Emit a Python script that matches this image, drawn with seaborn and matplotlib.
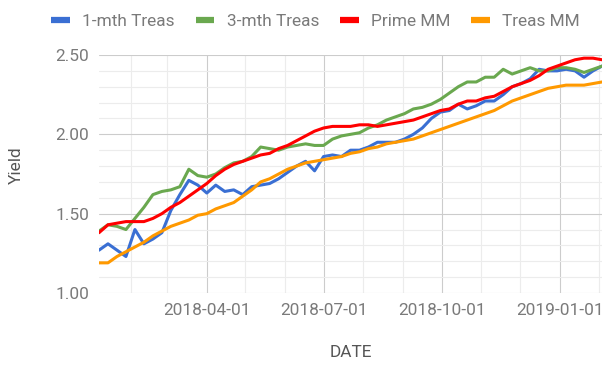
import matplotlib
matplotlib.use("Agg")
import matplotlib.pyplot as plt
import matplotlib.dates as mdates
import numpy as np
import pandas as pd
import seaborn as sns

# weekly yields
dates = pd.date_range("2018-01-07", periods=57, freq="7D")

one_mth = [1.27, 1.31, 1.27, 1.23, 1.40, 1.31, 1.34, 1.38, 1.52, 1.62,
           1.71, 1.68, 1.63, 1.68, 1.64, 1.65, 1.62, 1.67, 1.68, 1.69,
           1.72, 1.76, 1.80, 1.83, 1.77, 1.86, 1.87, 1.86, 1.90, 1.90,
           1.92, 1.95, 1.95, 1.95, 1.97, 2.00, 2.04, 2.10, 2.14,
           2.15, 2.19, 2.16, 2.18, 2.21, 2.21, 2.25, 2.30, 2.32, 2.35,
           2.41, 2.40, 2.40, 2.41, 2.40, 2.36, 2.40, 2.43]
three_mth = [1.39, 1.43, 1.42, 1.40, 1.47, 1.54, 1.62, 1.64, 1.65, 1.67,
             1.78, 1.74, 1.73, 1.75, 1.79, 1.82, 1.83, 1.86, 1.92, 1.91,
             1.90, 1.92, 1.93, 1.94, 1.93, 1.93, 1.97, 1.99, 2.00, 2.01,
             2.04, 2.06, 2.09, 2.11, 2.13, 2.16, 2.17, 2.19, 2.22,
             2.26, 2.30, 2.33, 2.33, 2.36, 2.36, 2.41, 2.38, 2.40, 2.42,
             2.40, 2.40, 2.42, 2.42, 2.41, 2.39, 2.41, 2.43]
prime_mm = [1.38, 1.43, 1.44, 1.45, 1.45, 1.45, 1.47, 1.50, 1.54, 1.57,
            1.61, 1.65, 1.69, 1.74, 1.78, 1.81, 1.83, 1.85, 1.87, 1.88,
            1.91, 1.93, 1.96, 1.99, 2.02, 2.04, 2.05, 2.05, 2.05, 2.06,
            2.06, 2.05, 2.06, 2.07, 2.08, 2.09, 2.11, 2.13, 2.15,
            2.16, 2.19, 2.21, 2.21, 2.23, 2.24, 2.27, 2.30, 2.32, 2.34,
            2.37, 2.41, 2.43, 2.45, 2.47, 2.48, 2.48, 2.47]
treas_mm = [1.19, 1.19, 1.23, 1.26, 1.29, 1.32, 1.36, 1.39, 1.42, 1.44,
            1.46, 1.49, 1.50, 1.53, 1.55, 1.57, 1.61, 1.65, 1.70, 1.72,
            1.75, 1.78, 1.80, 1.82, 1.83, 1.84, 1.85, 1.86, 1.88, 1.89,
            1.91, 1.92, 1.94, 1.95, 1.96, 1.97, 1.99, 2.01, 2.03,
            2.05, 2.07, 2.09, 2.11, 2.13, 2.15, 2.18, 2.21, 2.23, 2.25,
            2.27, 2.29, 2.30, 2.31, 2.31, 2.31, 2.32, 2.33]

series_names = ["1-mth Treas", "3-mth Treas", "Prime MM", "Treas MM"]
colors = ["#3a6fd3", "#6aa84f", "#ff0000", "#ff9900"]
y_ticks = [1.00, 1.50, 2.00, 2.50]
x_ticks = ["2018-04-01", "2018-07-01", "2018-10-01", "2019-01-01"]

wide = pd.DataFrame({"DATE": dates,
                     series_names[0]: one_mth,
                     series_names[1]: three_mth,
                     series_names[2]: prime_mm,
                     series_names[3]: treas_mm})
long = wide.melt(id_vars="DATE", var_name="series", value_name="Yield")

sns.set_theme(style="white")
plt.rcParams["font.family"] = ["Roboto", "DejaVu Sans"]
TXT = "#7a7a7a"

fig = plt.figure(figsize=(6.15, 3.82), dpi=100)
ax = fig.add_axes([99 / 615, 1 - 293 / 382, 503 / 615, 238 / 382])

sns.lineplot(data=long, x="DATE", y="Yield", hue="series", hue_order=series_names,
             palette=colors, linewidth=2.2, ax=ax)

ax.set_xlim(dates[0], dates[-1])
ax.set_ylim(1.0, 2.5)

ax.set_yticks(y_ticks)
ax.set_yticklabels([f"{v:.2f}" for v in y_ticks])
ax.set_yticks(np.arange(1.0, 2.51, 0.1), minor=True)
ax.set_xticks(pd.to_datetime(x_ticks))
ax.set_xticklabels(x_ticks)
ax.xaxis.set_minor_locator(mdates.MonthLocator())

ax.grid(which="major", color="#cccccc", linewidth=0.8)
ax.grid(which="minor", color="#ececec", linewidth=0.8)
ax.set_axisbelow(True)
for s in ax.spines.values():
    s.set_visible(False)
ax.tick_params(which="both", length=0, labelsize=12.4, colors=TXT)
ax.tick_params(axis="y", pad=7)
ax.tick_params(axis="x", pad=7)

ax.set_xlabel("DATE", fontsize=12.4, color="#555555")
ax.set_ylabel("Yield", fontsize=12.4, color="#555555")
ax.xaxis.set_label_coords(0.5, -0.22)
ax.yaxis.set_label_coords(-0.15, 0.535)

sns.move_legend(ax, "center", bbox_to_anchor=(0.43, 1.14), ncol=4, frameon=False,
                title=None, fontsize=12.4, handlelength=1.1, handletextpad=0.7,
                columnspacing=1.2)
leg = ax.get_legend()
for line in leg.get_lines():
    line.set_linewidth(4.5)
    line.set_solid_capstyle("butt")
for t in leg.get_texts():
    t.set_color(TXT)

fig.savefig("out.png", dpi=100)
